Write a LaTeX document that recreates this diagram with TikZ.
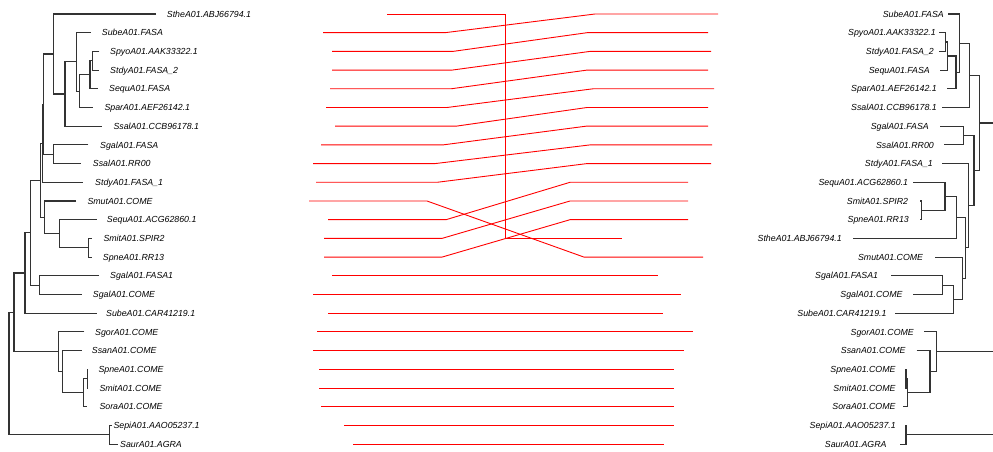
\documentclass[tikz,border=0pt]{standalone}
\usepackage{fontspec}
\setmainfont{Liberation Sans}
\begin{document}
\begin{tikzpicture}[x=1pt, y=-18.7pt,
  tree/.style={draw=black!80, line width=1.15pt},
  link/.style={draw=red, line width=0.9pt},
  tip/.style={font=\fontsize{8.8}{10}\selectfont\itshape, inner sep=0pt,
    text height=6.3pt, text depth=0pt}]
  \useasboundingbox (0,-0.7487) rectangle (993,23.4225);
  % one row per leaf, y = row index
  % left tree labels: row/start/text
  \foreach \i/\x/\t in {0/166.7/StheA01.ABJ66794.1, 1/101.7/SubeA01.FASA,
      2/110/SpyoA01.AAK33322.1, 3/110/StdyA01.FASA\_2, 4/109/SequA01.FASA,
      5/104.3/SparA01.AEF26142.1, 6/113.3/SsalA01.CCB96178.1,
      7/100/SgalA01.FASA, 8/92.7/SsalA01.RR00, 9/95/StdyA01.FASA\_1,
      10/87.3/SmutA01.COME, 11/106.7/SequA01.ACG62860.1,
      12/103.3/SmitA01.SPIR2, 13/102.7/SpneA01.RR13, 14/110/SgalA01.FASA1,
      15/92.7/SgalA01.COME, 16/106/SubeA01.CAR41219.1, 17/95/SgorA01.COME,
      18/91.7/SsanA01.COME, 19/98.3/SpneA01.COME, 20/99.3/SmitA01.COME,
      21/99.3/SoraA01.COME, 22/113.3/SepiA01.AAO05237.1, 23/120/SaurA01.AGRA}
    \node[tip, anchor=west] (left\i) at (\x,\i) {\t};
  % right tree labels: row/end/text
  \foreach \i/\x/\t in {0/944/SubeA01.FASA, 1/936/SpyoA01.AAK33322.1,
      2/934/StdyA01.FASA\_2, 3/930/SequA01.FASA, 4/937/SparA01.AEF26142.1,
      5/937/SsalA01.CCB96178.1, 6/929/SgalA01.FASA, 7/934/SsalA01.RR00,
      8/933/StdyA01.FASA\_1, 9/908.3/SequA01.ACG62860.1,
      10/908.3/SmitA01.SPIR2, 11/909/SpneA01.RR13,
      12/842/StheA01.ABJ66794.1, 13/923.3/SmutA01.COME,
      14/878.3/SgalA01.FASA1, 15/902.7/SgalA01.COME,
      16/886.7/SubeA01.CAR41219.1, 17/914/SgorA01.COME,
      18/905.7/SsanA01.COME, 19/895.7/SpneA01.COME, 20/895.7/SmitA01.COME,
      21/895.7/SoraA01.COME, 22/896/SepiA01.AAO05237.1,
      23/886.7/SaurA01.AGRA}
    \node[tip, anchor=east] (right\i) at (\x,\i) {\t};
  % left dendrogram, one bracket per merge
  \draw[tree] (99.3,2) -| (92.7,3) -- (99.3,3);
  \draw[tree] (92.7,2.5) -| (90,4) -- (97.7,4);
  \draw[tree] (90,3.25) -| (79.3,5) -- (92.7,5);
  \draw[tree] (90.7,1) -| (76.7,4.125) -- (79.3,4.125);
  \draw[tree] (76.7,2.5625) -| (65,6) -- (101.7,6);
  \draw[tree] (156,0) -| (53.3,4.28125) -- (65,4.28125);
  \draw[tree] (88.3,7) -| (53.3,8) -- (81,8);
  \draw[tree] (53.3,2.140625) -| (43.3,7.5) -- (53.3,7.5);
  \draw[tree] (43.3,4.8203) -| (42.7,9) -- (82.7,9);
  \draw[tree] (91.7,12) -| (88.3,13) -- (91.7,13);
  \draw[tree] (96.7,11) -| (59.3,12.5) -- (88.3,12.5);
  \draw[tree] (76,10) -| (44.3,11.75) -- (59.3,11.75);
  \draw[tree] (42.7,6.9102) -| (40.7,10.875) -- (44.3,10.875);
  \draw[tree] (99,14) -| (39.3,15) -- (81.7,15);
  \draw[tree] (40.7,8.8926) -| (30.7,14.5) -- (39.3,14.5);
  \draw[tree] (30.7,11.6963) -| (25,16) -- (96.7,16);
  \draw[tree] (88,19) -| (87.3,20) -- (88,20);
  \draw[tree] (87.3,19.5) -| (83.3,21) -- (87.3,21);
  \draw[tree] (81.7,18) -| (62.7,20.25) -- (83.3,20.25);
  \draw[tree] (84.3,17) -| (58.3,19.125) -- (62.7,19.125);
  \draw[tree] (25,13.8481) -| (14,18.0625) -- (58.3,18.0625);
  \draw[tree] (111.5,22) -| (109.3,23) -- (118,23);
  \draw[tree] (14,15.9553) -| (9,22.5) -- (109.3,22.5);
  % right dendrogram, root lies past the right edge
  \draw[tree] (939,1) -| (945.5,2) -- (939,2);
  \draw[tree] (945.5,1.5) -| (947.3,3) -- (940,3);
  \draw[tree] (947.3,2.25) -| (956,4) -- (947,4);
  \draw[tree] (948,0) -| (959.3,3.125) -- (956,3.125);
  \draw[tree] (959.3,1.5625) -| (969.3,5) -- (941.7,5);
  \draw[tree] (940,6) -| (963.3,7) -- (944.3,7);
  \draw[tree] (920,10) -| (921.7,11) -- (920,11);
  \draw[tree] (913.3,9) -| (945,10.5) -- (921.7,10.5);
  \draw[tree] (945,9.75) -| (956.7,12) -- (853,12);
  \draw[tree] (891,14) -| (942.3,15) -- (912.7,15);
  \draw[tree] (942.3,14.5) -| (953.3,16) -- (895,16);
  \draw[tree] (935,13) -| (962.7,15.25) -- (953.3,15.25);
  \draw[tree] (956.7,10.875) -| (965.5,14.125) -- (962.7,14.125);
  \draw[tree] (942.3,8) -| (968.3,12.5) -- (965.5,12.5);
  \draw[tree] (963.3,6.5) -| (974,10.25) -- (968.3,10.25);
  \draw[tree] (969.3,3.28125) -| (979.3,8.375) -- (974,8.375);
  \draw[tree] (979.3,5.828125) -- (993,5.828125);
  \draw[tree] (905,19) -| (906,20) -- (905,20);
  \draw[tree] (906,19.5) -| (907.3,21) -- (903,21);
  \draw[tree] (916.7,18) -| (930,20.25) -- (907.3,20.25);
  \draw[tree] (924.3,17) -| (936.7,19.125) -- (930,19.125);
  \draw[tree] (936.7,18.0625) -- (993,18.0625);
  \draw[tree] (905,22) -| (906,23) -- (900,23);
  \draw[tree] (906,22.5) -- (993,22.5);
  % links that change row: left row/start/bend, right row/bend/end
  \foreach \l/\xa/\xb/\r/\xc/\xd in {0/387/505/12/505/622,
      1/323/445/0/595/718, 2/332/453/1/587/708, 3/332/452/2/590/711,
      4/330/451/3/587/708, 5/326/447/4/593/714, 6/335/456/5/587/708,
      7/321/443/6/586/708, 8/313/435/7/590/712, 9/316/437/8/587/711,
      10/309/427/13/584/703, 11/328/446/9/570/688, 12/324/442/10/570/688,
      13/324/442/11/570/688}
    \draw[link] (\xa,\l) -- (\xb,\l) -- (\xc,\r) -- (\xd,\r);
  % links that keep their row
  \foreach \l/\xa/\xd in {14/332/658, 15/313/681, 16/328/663, 17/317/693,
      18/313/684, 19/319/674, 20/319/674, 21/321/674, 22/344/674,
      23/353/664}
    \draw[link] (\xa,\l) -- (\xd,\l);
\end{tikzpicture}
\end{document}
